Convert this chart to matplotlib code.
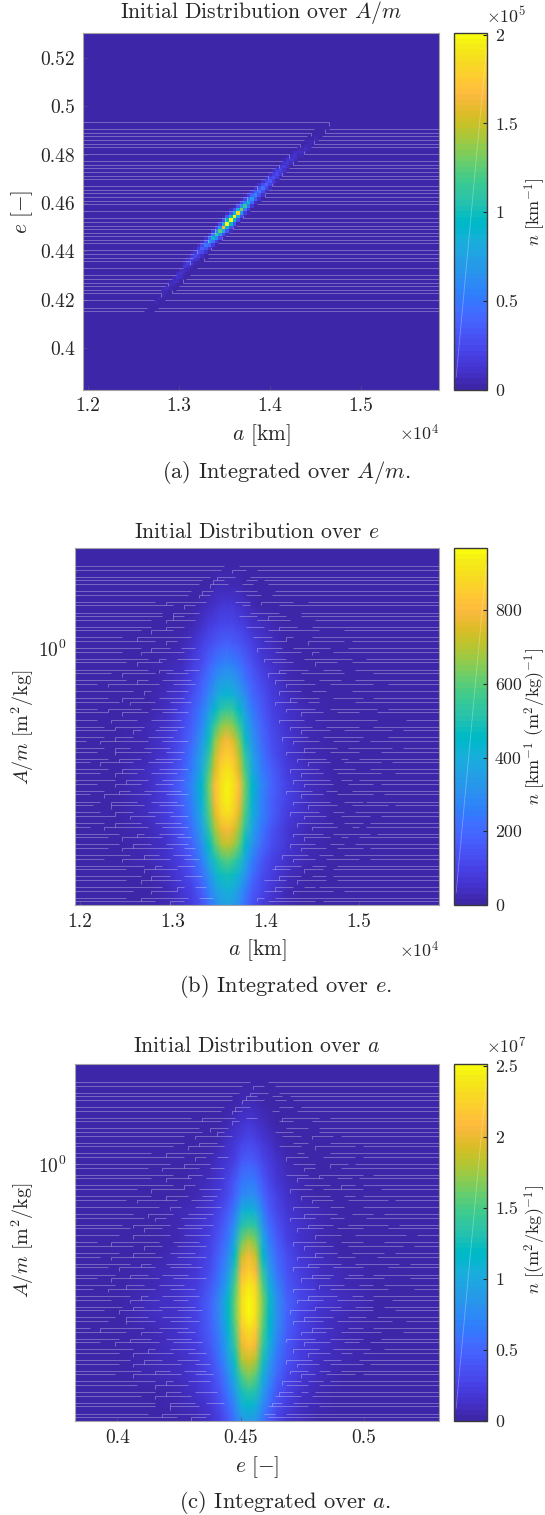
import numpy as np
import matplotlib
matplotlib.use("Agg")
import matplotlib.pyplot as plt
from matplotlib.colors import ListedColormap
from matplotlib.collections import LineCollection
from matplotlib.ticker import LogLocator, NullFormatter, FixedLocator

plt.rcParams['font.family'] = ['cmr10', 'DejaVu Serif']
plt.rcParams['mathtext.fontset'] = 'cm'
plt.rcParams['axes.unicode_minus'] = False
plt.rcParams['axes.formatter.use_mathtext'] = True

W, H = 545, 1515
FS_TICK = 14.0
FS_CB = 12.8
FS_TITLE = 15.6
FS_CAP = 16.2
FS_LAB = 15.4
FS_LAB_AM = 14.4
FS_CBLAB = 13.0

parula = [
 [.2422,.1504,.6603],[.2504,.1650,.7076],[.2578,.1818,.7511],[.2647,.1978,.7952],[.2706,.2147,.8364],
 [.2751,.2342,.8710],[.2783,.2559,.8991],[.2803,.2782,.9221],[.2813,.3006,.9414],[.2810,.3228,.9579],
 [.2795,.3447,.9717],[.2760,.3667,.9829],[.2699,.3892,.9906],[.2602,.4123,.9952],[.2440,.4358,.9988],
 [.2206,.4603,.9973],[.1963,.4847,.9892],[.1834,.5074,.9798],[.1786,.5289,.9682],[.1764,.5499,.9520],
 [.1687,.5703,.9359],[.1540,.5902,.9218],[.1460,.6091,.9079],[.1380,.6276,.8973],[.1248,.6459,.8883],
 [.1113,.6635,.8763],[.0952,.6798,.8598],[.0689,.6948,.8394],[.0297,.7082,.8163],[.0036,.7203,.7917],
 [.0067,.7312,.7660],[.0433,.7411,.7394],[.0964,.7500,.7120],[.1408,.7584,.6842],[.1717,.7670,.6554],
 [.1938,.7758,.6251],[.2161,.7843,.5923],[.2470,.7918,.5567],[.2906,.7973,.5188],[.3406,.8008,.4789],
 [.3909,.8029,.4354],[.4456,.8024,.3909],[.5044,.7993,.3480],[.5616,.7942,.3045],[.6174,.7876,.2612],
 [.6720,.7793,.2227],[.7242,.7698,.1910],[.7738,.7598,.1646],[.8203,.7498,.1535],[.8634,.7406,.1596],
 [.9035,.7330,.1774],[.9393,.7288,.2100],[.9728,.7298,.2394],[.9956,.7434,.2371],[.9970,.7659,.2199],
 [.9952,.7861,.1990],[.9892,.8086,.1793],[.9786,.8310,.1557],[.9696,.8528,.1381],[.9626,.8754,.1180],
 [.9589,.8990,.0969],[.9598,.9218,.0948],[.9661,.9514,.0755],[.9763,.9831,.0538]]
cmap = ListedColormap(parula)

# shared ranges
a_lim = (1.195e4, 1.586e4)
e_lim = (0.3828, 0.5304)
am_lim = (0.098, 2.47)

# panel (a): ridge read cell by cell (values in 1e3 km^-1)
a_cols = list(range(18, 70))
a_rows = [22,23,24,25,27,28,29,30,31,32,34,35,36,37,38,39,40,41,42,43,44,45,46,47,48,49,50,51,52,53,54,55,56,57,58,59,60,61,62,63,64,65,66,66,67,68,69,70,71,72,73,74]
a_center = [3,3,4,5,6,7,8,9,11,12,14,16,20,23,28,35,48,66,88,110,125,165,201,198,195,180,135,110,88,70,58,50,44,38,32,27,24,21,18,15,13,11,9,8,7,6,5,4,3,3,2,2]
a_near   = [2,2,3,3,4,5,5,6,7,8,9,11,13,15,18,22,28,38,48,58,68,84,95,92,90,82,66,56,48,40,34,30,27,24,20,18,16,14,12,10,9,7,6,5,4,4,3,3,2,2,1,1]
a_mid    = [1,1,1,1,2,2,2,3,3,3,4,4,5,6,7,8,10,12,16,20,24,28,32,31,30,27,22,20,17,14,12,11,10,9,8,7,6,5,4,4,3,3,2,2,2,1,1,1,1,1,0,0]
a_far    = [0,0,0,0,0,0,1,1,1,1,1,1,1,1,2,2,2,3,4,5,5,6,7,7,6,6,5,4,4,3,3,3,2,2,2,2,1,1,1,1,1,1,0,0,0,0,0,0,0,0,0,0]
# seam lines of panel (a): row edge, left run end col, right run start col
a_seam_rows = [75,73,72,71,70,69,68,66,64,63,62,61,60,59,57,56,55,54,53,52,50,48,47,46,45,44,43,42,41,39,38,37,36,34,32,31,30,29,28,27,25,23,22]
a_seam_left = [69,65,64,63,62,61,60,58,56,55,54,53,52,51,49,48,47,46,45,44,42,40,39,38,37,37,36,35,34,32,31,31,30,28,26,25,24,23,22,22,20,18,17]
a_seam_right= [100,69,68,67,66,65,64,62,60,59,58,57,56,55,53,52,51,51,50,49,47,45,44,43,42,41,40,39,38,36,35,35,34,32,30,29,28,27,26,25,23,21,20]

# panels (b), (c): A/m node values
am_nodes = [2.47,2.116,1.767,1.474,1.231,1.027,.858,.749,.654,.571,.499,.436,.380,.332,.290,.2535,.221,.193,.169,.1475,.129,.1125,.098]

# panel (b): n read over a (km) and A/m
b_a = [1.195,1.2401,1.2723,1.2938,1.3099,1.3207,1.3314,1.3389,1.3454,1.3518,1.3583,1.3647,1.3712,1.3776,1.3851,1.3959,1.4066,1.4227,1.4442,1.4764,1.5194,1.586]
b_n = [
 [0]*22,
 [0,0,0,0,0,0,1,2,3,5,6,5,3,2,1,0,0,0,0,0,0,0],
 [0,0,0,0,1,3,8,14,20,26,30,27,21,15,9,4,1,0,0,0,0,0],
 [0,0,0,1,5,12,25,40,52,64,70,65,54,42,28,14,6,2,0,0,0,0],
 [0,0,0,4,14,30,55,78,96,112,120,113,98,80,58,34,17,5,1,0,0,0],
 [0,0,1,9,28,52,92,125,155,178,190,180,158,128,95,58,32,11,2,0,0,0],
 [0,0,3,16,44,80,135,185,230,265,280,268,235,190,140,88,50,20,5,0,0,0],
 [0,0,6,24,58,105,170,235,290,335,350,338,295,240,175,112,65,28,8,1,0,0],
 [0,1,9,33,75,130,205,285,355,410,430,415,360,290,210,138,82,38,12,2,0,0],
 [0,2,14,42,92,155,245,345,450,525,550,530,455,350,250,162,98,46,16,3,0,0],
 [0,3,18,52,110,178,285,410,550,640,670,645,555,415,290,185,115,55,20,5,0,0],
 [0,4,23,62,128,205,325,475,640,750,790,755,650,480,330,210,132,65,26,7,1,0],
 [1,5,28,72,148,230,365,525,700,815,860,820,705,530,370,235,150,75,30,9,1,0],
 [1,7,33,82,165,250,400,575,750,865,910,870,755,580,405,255,168,85,36,11,2,0],
 [2,9,40,95,185,275,440,630,805,905,950,910,810,635,445,280,185,96,42,13,2,0],
 [2,9,38,90,180,270,430,615,790,900,950,905,795,620,435,272,180,92,40,13,2,0],
 [2,8,34,84,165,255,405,580,750,855,900,860,755,585,410,258,168,86,36,11,2,0],
 [1,6,28,72,145,225,360,520,670,765,800,770,675,525,365,228,148,74,30,9,1,0],
 [1,4,23,60,125,195,315,460,600,690,720,692,605,465,320,198,128,62,24,6,1,0],
 [0,2,17,47,100,160,260,380,495,565,590,568,500,385,265,162,102,48,18,4,0,0],
 [0,1,11,36,80,130,215,315,410,470,490,472,415,320,218,132,82,37,12,2,0,0],
 [0,0,7,28,62,105,175,260,340,393,410,395,345,265,178,108,64,28,8,1,0,0],
 [0,0,4,20,48,85,145,215,285,335,350,337,290,220,148,88,50,20,5,0,0,0]]

# panel (c): n read over e and A/m (units 1e5)
c_e = [.3829,.4004,.4146,.4248,.4321,.4378,.4419,.4451,.4476,.4504,.4533,.4561,.4589,.4614,.4646,.4687,.4744,.4817,.4919,.5061,.5309]
c_n = [
 [0]*21,
 [0,0,0,0,0,0,0,0,0,1,1,1,0,0,0,0,0,0,0,0,0],
 [0,0,0,0,0,0,1,2,3,5,6,5,3,2,1,0,0,0,0,0,0],
 [0,0,0,0,0,1,3,6,9,15,17,15,10,7,3,1,0,0,0,0,0],
 [0,0,0,0,1,3,7,12,18,27,30,27,19,13,7,3,1,0,0,0,0],
 [0,0,0,1,3,6,12,19,27,41,45,41,28,20,12,6,3,1,0,0,0],
 [0,0,0,2,5,10,18,28,40,60,65,60,41,29,18,10,5,2,0,0,0],
 [0,0,1,3,7,13,23,35,50,74,80,75,52,36,24,13,7,3,1,0,0],
 [0,0,1,4,9,17,30,45,65,103,112,104,67,47,31,18,9,4,1,0,0],
 [0,0,2,6,12,22,37,55,82,132,145,134,84,57,38,23,12,6,2,0,0],
 [0,1,2,7,14,26,44,66,100,160,178,162,103,68,45,27,15,7,2,0,0],
 [0,1,3,9,17,31,52,78,118,185,205,187,120,80,54,32,18,9,3,1,0],
 [0,1,4,10,19,35,60,90,135,205,222,206,138,92,62,36,20,10,4,1,0],
 [0,2,5,12,22,41,70,105,150,222,240,224,153,108,72,43,24,13,5,2,0],
 [0,3,8,15,26,48,80,120,160,232,251,235,165,122,82,50,28,16,8,3,0],
 [0,3,8,15,26,48,80,118,158,230,248,232,162,120,81,49,27,15,7,3,0],
 [0,2,7,13,24,44,74,112,150,215,232,218,153,114,76,45,25,13,6,2,0],
 [0,2,6,12,22,40,68,104,140,200,215,202,142,106,70,42,23,12,5,2,0],
 [0,1,5,10,19,35,60,92,125,178,192,180,127,94,62,37,20,10,4,1,0],
 [0,1,4,8,16,29,50,78,107,152,165,154,109,80,52,31,17,8,3,0,0],
 [0,0,3,7,13,24,41,65,90,129,140,131,92,67,43,25,14,7,2,0,0],
 [0,0,2,5,10,19,33,53,74,106,115,107,76,55,35,20,11,5,1,0,0],
 [0,0,1,3,7,14,26,42,59,83,90,84,60,43,27,15,8,3,0,0,0]]

# seam fragments: (row edge, col0, col1, col0, col1, ...)
b_seams = [
 (95,0,41,45,100),(94,0,40,43,47,50,100),(92,0,37,39,44,48,100),(91,0,35,38,41,47,50,52,100),
 (90,0,34,37,42,46,49,53,100),(88,0,32,35,38,44,50,55,100),(87,0,30,33,37,47,53,56,100),
 (85,0,28,31,36,44,48,51,54,58,100),(84,0,27,30,33,46,52,60,100),(82,0,25,28,34,48,55,61,100),
 (81,0,24,27,30,45,50,53,58,62,100),(80,0,24,28,33,50,56,63,100),(78,0,21,25,30,47,52,56,62,66,100),
 (77,0,20,23,27,53,60,67,100),(75,0,20,24,32,49,54,58,63,68,100),(74,0,19,22,28,52,58,64,69,71,100),
 (72,0,18,21,26,29,33,50,57,60,68,73,100),(71,0,18,23,30,55,62,65,70,74,100),(69,0,17,20,25,28,34,52,58,63,71,75,100),
 (68,0,16,19,24,54,60,66,72,76,100),(66,0,15,18,27,30,34,56,64,68,73,77,100),(65,0,14,17,22,25,31,53,58,62,70,78,100),
 (63,0,13,16,20,24,32,55,63,67,75,79,100),(62,0,12,15,23,27,33,58,66,70,76,80,100),(60,0,12,15,21,25,31,56,62,65,73,80,100),
 (58,0,10,14,19,23,30,59,67,71,78,81,100),(57,0,10,13,22,26,32,55,61,64,72,82,100),(55,0,9,12,18,21,28,58,66,70,80,83,100),
 (54,0,9,13,20,24,31,62,68,72,79,84,100),(52,0,8,12,17,21,29,56,63,66,76,84,100),(50,0,8,11,19,23,30,59,65,69,81,85,100),
 (49,0,8,13,18,22,28,62,70,74,82,85,100),(47,0,8,11,16,20,27,57,64,68,77,84,100),(46,0,8,12,20,24,31,60,67,71,81,84,100),
 (44,0,8,11,15,19,26,63,72,75,82,85,100),(43,0,8,13,21,25,30,58,66,70,78,84,100),(41,0,9,12,18,22,29,61,69,73,81,84,100),
 (40,0,8,11,16,20,27,64,70,74,80,83,100),(38,0,8,12,19,23,31,59,67,71,79,83,100),(37,0,7,11,17,21,28,62,68,72,78,82,100),
 (35,0,7,10,20,24,30,60,70,73,80,82,100),(34,0,7,12,18,22,27,63,71,75,81,83,100),(32,0,6,10,15,19,29,58,65,69,77,81,100),
 (31,0,7,11,21,25,31,62,68,72,79,82,100),(29,0,7,10,17,21,28,60,70,74,80,81,100),(28,0,7,12,19,23,30,64,72,76,79,81,100),
 (26,0,7,11,16,20,27,59,67,71,77,80,100),(25,0,8,12,22,26,31,63,69,73,76,79,100),(23,0,8,11,18,22,29,61,71,74,77,79,100),
 (22,0,9,13,20,24,31,65,72,76,78,80,100),(20,0,9,14,19,23,30,60,68,71,76,78,100),(19,0,11,15,24,28,32,63,70,73,75,78,100),
 (17,0,12,16,21,25,31,59,66,70,74,77,100),(16,0,13,17,27,30,33,62,69,72,75,77,100),(14,0,14,18,23,27,32,57,64,67,73,76,100),
 (13,0,14,19,26,30,34,60,66,69,72,75,100),(11,0,15,18,24,28,33,55,62,65,69,72,100),(10,0,15,20,28,54,59,63,67,70,100),
 (8,0,16,19,26,30,35,56,62,65,69,71,100),(7,0,17,21,29,52,58,61,66,69,100),(5,0,18,22,30,33,36,55,60,63,67,68,100),
 (4,0,18,23,28,52,57,60,64,67,100),(2,0,21,25,31,34,38,50,55,58,100),(1,0,22,26,30,53,61,63,100)]
c_seams = [
 (95,0,48,53,100),(94,0,46,49,52,55,100),(92,0,45,48,53,56,100),(91,0,43,47,50,54,57,59,100),
 (90,0,43,46,52,55,58,60,100),(88,0,41,44,48,56,60,62,100),(87,0,39,42,46,54,58,63,100),
 (85,0,38,41,44,47,50,57,61,64,100),(84,0,36,39,45,56,60,65,100),(82,0,35,38,42,58,63,66,100),
 (81,0,33,37,41,55,60,67,100),(80,0,33,36,43,57,62,65,68,70,100),(78,0,30,34,39,60,65,71,100),
 (77,0,29,33,41,56,62,66,70,72,100),(75,0,28,32,38,61,66,73,100),(74,0,27,30,36,39,42,58,64,68,72,74,100),
 (72,0,26,30,37,60,66,70,73,75,100),(71,0,25,29,34,37,41,63,69,76,100),(69,0,24,28,35,58,64,67,74,77,100),
 (68,0,23,27,32,36,41,61,68,72,76,78,100),(66,0,22,25,33,63,70,73,77,79,100),(65,0,21,25,30,34,40,59,65,68,75,80,100),
 (63,0,20,24,31,35,39,62,70,74,79,81,100),(62,0,20,23,28,32,38,65,71,75,80,82,100),(60,0,19,22,29,33,40,60,67,70,78,83,100),
 (58,0,17,21,27,31,38,63,72,76,81,84,100),(57,0,17,20,25,29,36,59,66,70,79,85,100),(55,0,16,19,26,30,38,64,71,75,83,86,100),
 (54,0,15,19,24,28,35,61,68,72,80,87,100),(52,0,14,18,26,30,37,66,73,77,84,87,100),(50,0,13,17,23,27,34,60,69,73,82,88,100),
 (49,0,13,16,24,28,36,63,71,75,85,88,100),(47,0,12,16,22,26,33,66,72,76,83,86,100),(46,0,12,15,24,28,36,61,68,72,80,86,100),
 (44,0,12,15,21,25,32,64,73,77,84,87,100),(43,0,11,14,22,26,35,60,67,71,79,86,100),(41,0,11,15,20,24,31,65,71,75,85,88,100),
 (40,0,10,14,23,27,36,62,70,74,81,88,100),(38,0,10,13,19,23,30,67,74,78,84,87,100),(37,0,11,15,22,26,33,60,66,70,80,87,100),
 (35,0,11,14,20,24,34,64,72,76,83,86,100),(34,0,11,16,23,27,31,61,68,72,81,86,100),(32,0,11,14,19,23,33,66,73,77,82,85,100),
 (31,0,11,15,24,28,35,59,66,70,79,85,100),(29,0,11,14,20,24,32,63,71,75,81,84,100),(28,0,11,16,22,26,34,60,68,72,80,84,100),
 (26,0,11,14,19,23,31,65,71,75,82,85,100),(25,0,11,15,24,28,33,62,69,73,79,85,100),(23,0,12,15,21,25,32,58,66,70,77,82,100),
 (22,0,12,16,23,27,35,63,70,74,78,81,100),(20,0,13,17,22,26,33,60,67,71,76,80,100),(19,0,14,18,27,31,36,64,70,73,76,79,100),
 (17,0,15,19,24,28,34,58,65,68,73,78,100),(16,0,16,20,29,33,37,61,67,70,75,77,100),(14,0,17,21,26,30,36,59,64,67,72,75,100),
 (13,0,17,22,29,33,38,62,66,69,71,73,100),(11,0,18,21,27,31,37,57,62,64,68,70,100),(10,0,18,23,31,58,63,66,100),
 (8,0,20,23,29,33,39,56,60,62,64,66,100),(7,0,21,25,32,55,59,62,100),(5,0,22,26,33,36,41,54,58,61,100),
 (4,0,24,28,34,53,57,60,100),(2,0,27,31,37,52,55,58,100),(1,0,28,32,36,53,100)]
# hand-set stagger of the first and last gap, so the seam ends do not line up
seam_stagger_l = [0,-5,3,-2,5,-4,1,-6,4,-1,2,-3,6,-2,-7,3]
seam_stagger_r = [2,-3,5,0,-6,4,-2,6,-4,1,-5,3,-1,7,-3,5]

fig = plt.figure(figsize=(W/100, H/100), dpi=100)

def axes_px(x0, y0, x1, y1):
    return fig.add_axes([x0/W, 1-y1/H, (x1-x0)/W, (y1-y0)/H])

def text_px(x, y, s, **kw):
    kw.setdefault('ha', 'center')
    kw.setdefault('va', 'center')
    kw.setdefault('color', '#262626')
    fig.text(x/W, 1-y/H, s, **kw)

def style(ax, xt, xl, yt=None, yl=None, log=False):
    ax.set_xlim(*(a_lim if xt[0] > 1000 else e_lim))
    ax.set_xticks(xt)
    ax.set_xticklabels(xl, fontsize=FS_TICK, color='#262626')
    if log:
        ax.set_yscale('log')
        ax.set_ylim(*am_lim)
        ax.yaxis.set_major_locator(FixedLocator([1.0]))
        ax.set_yticklabels(['$10^{0}$'], fontsize=FS_TICK, color='#262626')
        ax.yaxis.set_minor_locator(LogLocator(base=10, subs=range(2, 10), numticks=10))
        ax.yaxis.set_minor_formatter(NullFormatter())
    else:
        ax.set_ylim(*e_lim)
        ax.set_yticks(yt)
        ax.set_yticklabels(yl, fontsize=FS_TICK, color='#262626')
    ax.tick_params(which='major', direction='in', length=2.6, width=0.5, color='#55507f', pad=5.8)
    ax.tick_params(which='minor', direction='in', length=1.5, width=0.5, color='#55507f')
    for s in ax.spines.values():
        s.set_color('#a4a4a4')
        s.set_linewidth(0.8)

def draw_seams(ax, seams, xe, ye):
    segs = []
    for n, rec in enumerate(seams):
        r = rec[0]
        pts = list(rec[1:])
        if len(pts) >= 8 and r < 88:
            s = seam_stagger_l[n % len(seam_stagger_l)]
            if pts[2] + s < pts[3] - 1 and pts[1] + s > 1:
                pts[1] += s
                pts[2] += s
            s = seam_stagger_r[n % len(seam_stagger_r)]
            if pts[-3] + s > pts[-4] + 1 and pts[-2] + s < 99:
                pts[-3] += s
                pts[-2] += s
        for k in range(0, len(pts), 2):
            c0, c1 = pts[k], pts[k+1]
            segs.append([(xe[c0], ye[r]), (xe[c1], ye[r])])
            if 0 < k < len(pts) - 2 and k % 4 == 2:
                segs.append([(xe[c0], ye[r]), (xe[c0], ye[r-1])])
    ax.add_collection(LineCollection(segs, colors='white', alpha=0.3, linewidths=0.7, zorder=3))

def colorbar(mesh, x0, y0, x1, y1, ticks, labels):
    cax = axes_px(x0, y0, x1, y1)
    cb = fig.colorbar(mesh, cax=cax)
    cb.set_ticks(ticks)
    cb.set_ticklabels(labels)
    cb.ax.tick_params(direction='in', length=2.6, width=0.8, color='#262626', labelsize=FS_CB, labelcolor='#262626', pad=5.8)
    cb.outline.set_edgecolor('#3a3a3a')
    cb.outline.set_linewidth(1.0)
    cax.plot([.08, .98], [.035, .953], transform=cax.transAxes, color='white', alpha=.3, lw=.6, zorder=5)

# panel (a)
xe = np.linspace(a_lim[0], a_lim[1], 101)
ye = np.linspace(e_lim[0], e_lim[1], 101)
Za = np.zeros((100, 100))
for i, (c, r) in enumerate(zip(a_cols, a_rows)):
    Za[r, c] = a_center[i]
    for d, arr in ((1, a_near), (2, a_mid), (3, a_far)):
        Za[r+d, c] = arr[i]
        Za[r-d, c] = arr[i]
ax = axes_px(83, 33, 439, 389.5)
m = ax.pcolormesh(xe, ye, Za*1e3, cmap=cmap, vmin=0, vmax=2.01e5, shading='flat', rasterized=True)
style(ax, [1.2e4, 1.3e4, 1.4e4, 1.5e4], ['1.2', '1.3', '1.4', '1.5'],
      [.40, .42, .44, .46, .48, .50, .52], ['0.4', '0.42', '0.44', '0.46', '0.48', '0.5', '0.52'])
a_segs = []
for r, l, rs in zip(a_seam_rows, a_seam_left, a_seam_right):
    a_segs.append([(xe[0], ye[r]), (xe[l], ye[r])])
    a_segs.append([(xe[rs], ye[r]), (xe[100], ye[r])])
    if r % 3 == 0:
        a_segs.append([(xe[l], ye[r]), (xe[l], ye[r-1])])
        if rs < 100:
            a_segs.append([(xe[rs], ye[r]), (xe[rs], ye[r+1])])
ax.add_collection(LineCollection(a_segs, colors='white', alpha=0.3, linewidths=0.7, zorder=3))
colorbar(m, 453.5, 33, 487, 389.5, [0, .5e5, 1e5, 1.5e5, 2e5], ['0', '0.5', '1', '1.5', '2'])
text_px(261, 13, 'Initial Distribution over $A/m$', fontsize=FS_TITLE)
text_px(261, 435, r'$a$ [km]', fontsize=FS_LAB)
text_px(439, 433, r'$\times 10^{4}$', ha='right', fontsize=FS_CB)
text_px(22, 212, r'$e\ [-]$', rotation=90, fontsize=FS_LAB)
text_px(506, 15, r'$\times 10^{5}$', fontsize=FS_CB)
text_px(535, 212, r'$n\ [\mathrm{km}^{-1}]$', rotation=90, fontsize=FS_CBLAB)
text_px(286, 472, '(a) Integrated over $A/m$.', fontsize=FS_CAP)

# panel (b)
xe = np.linspace(a_lim[0], a_lim[1], 101)
ye = np.geomspace(am_lim[0], am_lim[1], 101)
ax = axes_px(75, 548.3, 439, 905)
m = ax.pcolormesh(np.array(b_a)*1e4, am_nodes, np.array(b_n, float), cmap=cmap, vmin=0, vmax=968, shading='gouraud', rasterized=True)
style(ax, [1.2e4, 1.3e4, 1.4e4, 1.5e4], ['1.2', '1.3', '1.4', '1.5'], log=True)
draw_seams(ax, b_seams, xe, ye)
colorbar(m, 453.5, 548.3, 487, 905, [0, 200, 400, 600, 800], ['0', '200', '400', '600', '800'])
text_px(257, 532, 'Initial Distribution over $e$', fontsize=FS_TITLE)
text_px(257, 950, r'$a$ [km]', fontsize=FS_LAB)
text_px(439, 950, r'$\times 10^{4}$', ha='right', fontsize=FS_CB)
text_px(23, 727, r'$A/m\ [\mathrm{m}^2/\mathrm{kg}]$', rotation=90, fontsize=FS_LAB_AM)
text_px(535, 727, r'$n\ [\mathrm{km}^{-1}\ (\mathrm{m}^2/\mathrm{kg})^{-1}]$', rotation=90, fontsize=FS_CBLAB)
text_px(285, 987, '(b) Integrated over $e$.', fontsize=FS_CAP)

# panel (c)
xe = np.linspace(e_lim[0], e_lim[1], 101)
ax = axes_px(75, 1064.3, 439, 1420.7)
m = ax.pcolormesh(c_e, am_nodes, np.array(c_n, float)*1e5, cmap=cmap, vmin=0, vmax=2.51e7, shading='gouraud', rasterized=True)
style(ax, [.40, .45, .50], ['0.4', '0.45', '0.5'], log=True)
draw_seams(ax, c_seams, xe, ye)
colorbar(m, 453.5, 1064.3, 487, 1420.7, [0, .5e7, 1e7, 1.5e7, 2e7, 2.5e7], ['0', '0.5', '1', '1.5', '2', '2.5'])
text_px(257, 1046, 'Initial Distribution over $a$', fontsize=FS_TITLE)
text_px(257, 1467, r'$e\ [-]$', fontsize=FS_LAB)
text_px(23, 1240, r'$A/m\ [\mathrm{m}^2/\mathrm{kg}]$', rotation=90, fontsize=FS_LAB_AM)
text_px(506, 1046, r'$\times 10^{7}$', fontsize=FS_CB)
text_px(535, 1240, r'$n\ [(\mathrm{m}^2/\mathrm{kg})^{-1}]$', rotation=90, fontsize=FS_CBLAB)
text_px(285, 1502, '(c) Integrated over $a$.', fontsize=FS_CAP)

fig.savefig('out.png', dpi=100)
